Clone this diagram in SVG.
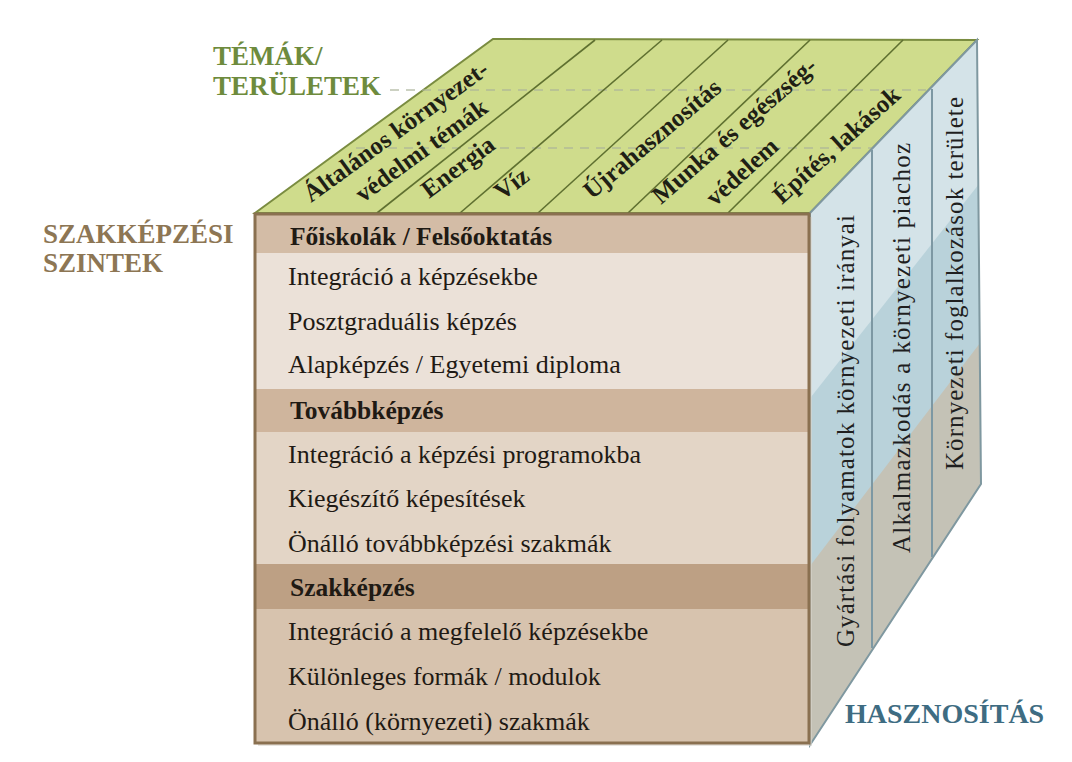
<svg xmlns="http://www.w3.org/2000/svg" width="1072" height="762" viewBox="0 0 1072 762">
<defs>
<style>
.ttl{font-family:"Liberation Serif","DejaVu Serif",serif;font-weight:bold;font-size:27px}
.top{font-family:"Liberation Serif","DejaVu Serif",serif;font-weight:bold;font-size:25px;fill:#1f1f15}
.row{font-family:"Liberation Serif","DejaVu Serif",serif;font-size:26px;fill:#1f1a14}
.hdr{font-family:"Liberation Serif","DejaVu Serif",serif;font-weight:bold;font-size:25.5px;fill:#1f1a14}
.side{font-family:"Liberation Serif","DejaVu Serif",serif;font-size:25px;fill:#1f1f1f}
.div{stroke:#5f7030;stroke-width:1.6;fill:none}
.dash{stroke:#aab39a;stroke-width:2;stroke-dasharray:9 7;fill:none;opacity:0.6}
.sdiv{stroke:#7d98a3;stroke-width:2;fill:none}
</style>
<clipPath id="sideClip"><polygon points="810,213 977,40 981,484 810,745"/></clipPath>
</defs>
<rect width="1072" height="762" fill="#ffffff"/>

<g id="titles">
<text class="ttl" x="213" y="65" fill="#6e8b3d">TÉMÁK/</text>
<text class="ttl" x="213" y="95" fill="#6e8b3d">TERÜLETEK</text>
<text class="ttl" x="43" y="243" fill="#8d7654">SZAKKÉPZÉSI</text>
<text class="ttl" x="43" y="272" fill="#8d7654">SZINTEK</text>
<text class="ttl" x="845" y="723" fill="#3e6c82" style="font-size:28px">HASZNOSÍTÁS</text>
</g>

<g id="top-face">
<polygon points="255,213 493,39 977,40 810,213" fill="#cfdc8c" stroke="#7a8c40" stroke-width="2"/>
<line class="dash" x1="390" y1="90" x2="926" y2="90"/>
<line class="dash" x1="356" y1="148" x2="872" y2="148"/>
<line class="div" x1="377" y1="213" x2="595" y2="40"/>
<line class="div" x1="460" y1="213" x2="662" y2="40"/>
<line class="div" x1="538" y1="213" x2="728" y2="40"/>
<line class="div" x1="628" y1="213" x2="810" y2="40"/>
<line class="div" x1="728" y1="213" x2="903" y2="40"/>
<text class="top" transform="translate(311,203) rotate(-36)">Általános környezet-</text>
<text class="top" transform="translate(363,203) rotate(-36)">védelmi témák</text>
<text class="top" transform="translate(429,199) rotate(-37)">Energia</text>
<text class="top" transform="translate(502,201) rotate(-37)">Víz</text>
<text class="top" transform="translate(592,200) rotate(-40)">Újrahasznosítás</text>
<text class="top" transform="translate(661,205) rotate(-41)">Munka és egészség-</text>
<text class="top" transform="translate(715,207) rotate(-42)">védelem</text>
<text class="top" transform="translate(782,205) rotate(-42)">Építés, lakások</text>
</g>

<g id="side-face">
<g clip-path="url(#sideClip)">
<rect x="805" y="35" width="185" height="720" fill="#d4e3e8"/>
<polygon points="800,411 990,170 990,800 800,800" fill="#b9d2da"/>
<polygon points="800,579 990,330 990,800 800,800" fill="#c4c2b6"/>
</g>
<polygon points="810,213 977,40 981,484 810,745" fill="none" stroke="#7f98a0" stroke-width="2"/>
<line class="sdiv" x1="872" y1="150" x2="872" y2="648"/>
<line class="sdiv" x1="932" y1="89" x2="932" y2="557"/>
<text class="side" transform="translate(854,647) rotate(-90)" textLength="432" lengthAdjust="spacing">Gyártási folyamatok környezeti irányai</text>
<text class="side" transform="translate(910,553) rotate(-90)" textLength="410" lengthAdjust="spacing">Alkalmazkodás a környezeti piachoz</text>
<text class="side" transform="translate(963,470) rotate(-90)" textLength="373" lengthAdjust="spacing">Környezeti foglalkozások területe</text>
</g>

<g id="front-face">
<rect x="258" y="217" width="554" height="529" fill="#d9d4cc" opacity="0.6"/>
<rect x="255" y="214" width="554" height="39" fill="#d3bca6"/>
<rect x="255" y="253" width="554" height="136" fill="#ebe1d8"/>
<rect x="255" y="389" width="554" height="43" fill="#cfb59d"/>
<rect x="255" y="432" width="554" height="132" fill="#e3d5c6"/>
<rect x="255" y="564" width="554" height="45" fill="#bda084"/>
<rect x="255" y="609" width="554" height="134" fill="#d7c3ae"/>
<rect x="255" y="214" width="554" height="529" fill="none" stroke="#8a7050" stroke-width="3"/>
<text class="hdr" x="290" y="245">Főiskolák / Felsőoktatás</text>
<text class="row" x="288" y="285">Integráció a képzésekbe</text>
<text class="row" x="288" y="330">Posztgraduális képzés</text>
<text class="row" x="288" y="373">Alapképzés / Egyetemi diploma</text>
<text class="hdr" x="290" y="419">Továbbképzés</text>
<text class="row" x="288" y="463">Integráció a képzési programokba</text>
<text class="row" x="288" y="507">Kiegészítő képesítések</text>
<text class="row" x="288" y="552">Önálló továbbképzési szakmák</text>
<text class="hdr" x="290" y="596">Szakképzés</text>
<text class="row" x="288" y="640">Integráció a megfelelő képzésekbe</text>
<text class="row" x="288" y="685">Különleges formák / modulok</text>
<text class="row" x="288" y="730">Önálló (környezeti) szakmák</text>
</g>
</svg>
